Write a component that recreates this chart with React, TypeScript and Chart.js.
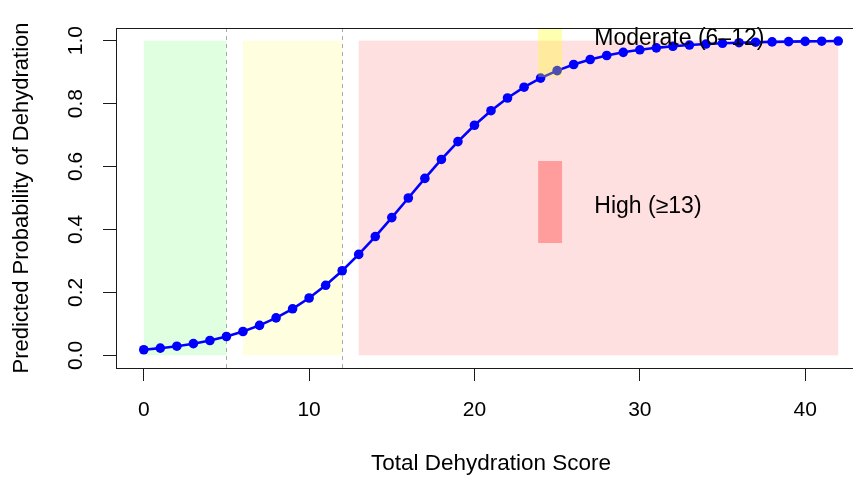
import React, { useEffect, useRef } from "react";
import { Chart, registerables } from "chart.js";

Chart.register(...registerables);

// ---- data ----
const scores = [
  0, 1, 2, 3, 4, 5, 6, 7, 8, 9, 10, 11, 12, 13, 14, 15, 16, 17, 18, 19, 20,
  21, 22, 23, 24, 25, 26, 27, 28, 29, 30, 31, 32, 33, 34, 35, 36, 37, 38, 39,
  40, 41, 42,
];
const probabilities = [
  0.018, 0.023, 0.0293, 0.0373, 0.0474, 0.0601, 0.0759, 0.0953, 0.1192,
  0.148, 0.1824, 0.2227, 0.2689, 0.3208, 0.3775, 0.4378, 0.5, 0.5622, 0.6225,
  0.6792, 0.7311, 0.7773, 0.8176, 0.852, 0.8808, 0.9047, 0.9241, 0.9399,
  0.9526, 0.9627, 0.9707, 0.977, 0.982, 0.9859, 0.989, 0.9914, 0.9933, 0.9948,
  0.9959, 0.9968, 0.9975, 0.9981, 0.9985,
];
const xTicks = [0, 10, 20, 30, 40];
const xTickLabels = ["0", "10", "20", "30", "40"];
const yTicks = [0, 0.2, 0.4, 0.6, 0.8, 1.0];
const yTickLabels = ["0.0", "0.2", "0.4", "0.6", "0.8", "1.0"];

const zoneStarts = [0, 6, 13];
const zoneEnds = [5, 12, 42];
const zoneBottom = 0;
const zoneTop = 1;
const cutoffs = [5, 12];

const legendLabels = ["Moderate (6\u201312)", "High (\u226513)"];
const legendBoxLeft = 23.85;
const legendBoxRight = 25.3;
const legendBoxTops = [1.2, 0.6175];
const legendBoxBottoms = [0.884, 0.357];
const legendTextX = 27.25;
const legendTextY = [1.005, 0.472];

// ---- styles ----
const FONT = "'Liberation Sans', Arial, sans-serif";
const zoneColors = ["rgba(0,255,0,0.12)", "rgba(255,255,0,0.12)", "rgba(255,0,0,0.12)"];
const legendBoxColors = ["rgba(255,255,0,0.3)", "rgba(255,0,0,0.3)"];
const AXIS_COLOR = "#1a1a1a";

const annotations = {
  id: "rAnnotations",
  beforeDatasetsDraw(chart: any) {
    const { ctx, chartArea: a, scales } = chart;
    const x = scales.x;
    const y = scales.y;
    ctx.save();
    ctx.beginPath();
    ctx.rect(a.left, a.top, a.right - a.left, a.bottom - a.top);
    ctx.clip();
    zoneStarts.forEach((s: number, i: number) => {
      const x0 = x.getPixelForValue(s);
      const x1 = x.getPixelForValue(zoneEnds[i]);
      const y0 = y.getPixelForValue(zoneTop);
      const y1 = y.getPixelForValue(zoneBottom);
      ctx.fillStyle = zoneColors[i];
      ctx.fillRect(x0, y0, x1 - x0, y1 - y0);
    });
    ctx.strokeStyle = "#a9a9a9";
    ctx.lineWidth = 1;
    ctx.setLineDash([4, 4]);
    cutoffs.forEach((c: number) => {
      const px = Math.round(x.getPixelForValue(c)) + 0.5;
      ctx.beginPath();
      ctx.moveTo(px, a.top);
      ctx.lineTo(px, a.bottom);
      ctx.stroke();
    });
    ctx.restore();
  },
  afterDatasetsDraw(chart: any) {
    const { ctx, chartArea: a, scales } = chart;
    const x = scales.x;
    const y = scales.y;
    ctx.save();
    ctx.beginPath();
    ctx.rect(a.left, a.top, a.right - a.left, a.bottom - a.top);
    ctx.clip();
    legendLabels.forEach((_: string, i: number) => {
      const x0 = x.getPixelForValue(legendBoxLeft);
      const x1 = x.getPixelForValue(legendBoxRight);
      const y0 = y.getPixelForValue(legendBoxTops[i]);
      const y1 = y.getPixelForValue(legendBoxBottoms[i]);
      ctx.fillStyle = legendBoxColors[i];
      ctx.fillRect(x0, y0, x1 - x0, y1 - y0);
    });
    ctx.restore();

    ctx.save();
    ctx.fillStyle = "#000";
    ctx.font = `23px ${FONT}`;
    ctx.textAlign = "left";
    ctx.textBaseline = "middle";
    legendLabels.forEach((t: string, i: number) => {
      ctx.fillText(t, x.getPixelForValue(legendTextX), y.getPixelForValue(legendTextY[i]));
    });
    ctx.restore();

    // plot box
    ctx.save();
    ctx.strokeStyle = AXIS_COLOR;
    ctx.lineWidth = 1;
    ctx.strokeRect(
      Math.round(a.left) + 0.5,
      Math.round(a.top) + 0.5,
      Math.round(a.right - a.left),
      Math.round(a.bottom - a.top)
    );
    ctx.restore();
  },
};

export default function App() {
  const ref = useRef<HTMLCanvasElement | null>(null);

  useEffect(() => {
    if (!ref.current) return;
    const chart = new Chart(ref.current, {
      type: "line",
      data: {
        datasets: [
          {
            data: scores.map((s, i) => ({ x: s, y: probabilities[i] })),
            borderColor: "#0000ff",
            backgroundColor: "#0000ff",
            borderWidth: 2.6,
            pointRadius: 4.8,
            pointBorderWidth: 0,
            pointBackgroundColor: "#0000ff",
            tension: 0,
          },
        ],
      },
      options: {
        animation: false,
        responsive: false,
        devicePixelRatio: 1,
        layout: { padding: { top: 28, right: 14, left: 0, bottom: 0 } },
        plugins: {
          legend: { display: false },
          tooltip: { enabled: false },
        },
        scales: {
          x: {
            type: "linear",
            position: "bottom",
            min: -1.68,
            max: 43.68,
            afterBuildTicks: (s: any) => {
              s.ticks = xTicks.map((v) => ({ value: v }));
            },
            afterFit: (s: any) => {
              s.height = 109;
            },
            grid: {
              display: true,
              drawOnChartArea: false,
              drawTicks: true,
              tickLength: 13,
              color: AXIS_COLOR,
              lineWidth: 1,
            },
            border: { display: false },
            ticks: {
              autoSkip: false,
              maxRotation: 0,
              minRotation: 0,
              padding: 17,
              color: "#000",
              font: { family: FONT, size: 21 },
              callback: (_v: any, i: number) => xTickLabels[i],
            },
            title: {
              display: true,
              text: "Total Dehydration Score",
              color: "#000",
              font: { family: FONT, size: 22.5, lineHeight: 1.2 },
              padding: { top: 0, bottom: 0 },
            },
          },
          y: {
            type: "linear",
            position: "left",
            min: -0.04,
            max: 1.04,
            afterBuildTicks: (s: any) => {
              s.ticks = yTicks.map((v) => ({ value: v }));
            },
            afterFit: (s: any) => {
              s.width = 116;
            },
            grid: {
              display: true,
              drawOnChartArea: false,
              drawTicks: true,
              tickLength: 13,
              color: AXIS_COLOR,
              lineWidth: 1,
            },
            border: { display: false },
            ticks: {
              autoSkip: false,
              minRotation: 90,
              maxRotation: 90,
              crossAlign: "center",
              padding: 12,
              color: "#000",
              font: { family: FONT, size: 21 },
              callback: (_v: any, i: number) => yTickLabels[i],
            },
            title: {
              display: true,
              text: "Predicted Probability of Dehydration",
              color: "#000",
              font: { family: FONT, size: 22, lineHeight: 1.2 },
              padding: { top: 9, bottom: 0 },
            },
          },
        },
      } as any,
      plugins: [annotations],
    });
    return () => chart.destroy();
  }, []);

  return (
    <div
      style={{
        position: "fixed",
        left: 0,
        top: 0,
        width: 853,
        height: 477,
        overflow: "hidden",
        background: "#fff",
      }}
    >
      <canvas ref={ref} width={880} height={477} style={{ display: "block", width: 880, height: 477 }} />
    </div>
  );
}
